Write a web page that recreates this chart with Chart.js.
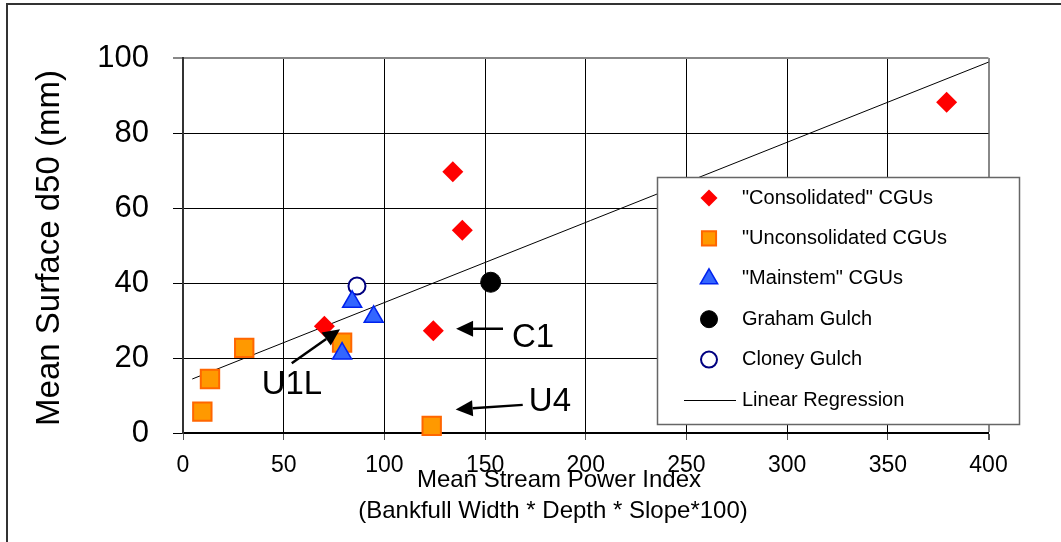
<!DOCTYPE html>
<html>
<head>
<meta charset="utf-8">
<script src="https://cdn.jsdelivr.net/npm/chart.js@4.4.0/dist/chart.umd.min.js"></script>
<style>
  html, body { margin: 0; padding: 0; background: #fff; }
  #wrap { width: 1061px; height: 542px; }
</style>
</head>
<body>
<div id="wrap"><canvas id="myScatterChart" width="1061" height="542"></canvas></div>
<script>
// Stream power index (x) vs mean surface d50 in mm (y), per channel group
var consolidatedX = [70.2, 134.0, 138.7, 124.3, 379.2]
var consolidatedY = [28.5, 69.7, 54.1, 27.3, 88.2]
var unconsolidatedX = [9.6, 13.4, 30.4, 79.0, 123.5]
var unconsolidatedY = [5.7, 14.4, 22.7, 24.1, 1.9]
var mainstemX = [84.0, 94.7, 79.0]
var mainstemY = [35.0, 31.0, 21.2]
var grahamX = [152.8]
var grahamY = [40.2]
var cloneyX = [86.4]
var cloneyY = [39.2]
// end points of the fitted line
var regressionX = [4.6, 400]
var regressionY = [14.4, 98.9]

var xTicks = [0, 50, 100, 150, 200, 250, 300, 350, 400]
var yTicks = [0, 20, 40, 60, 80, 100]

// site callouts: label, label position, arrow tail, arrow tip (data units)
var calloutLabels = ['U1L', 'C1', 'U4']
var calloutText = [[54.1, 12.8], [173.8, 25.4], [182.2, 8.3]]
var calloutTail = [[54.0, 18.6], [158.9, 27.8], [168.7, 7.5]]
var calloutTip = [[78.0, 27.7], [135.6, 27.8], [135.4, 6.3]]

var FONT = "'Liberation Sans', Arial, sans-serif"

function toPoints(xs, ys) {
    return xs.map(function(x, i) { return { x: x, y: ys[i] } })
}

// legend marker sizes are a bit smaller than the plotted ones
var legendRadius = [8.5, 10, 10, 8.5, 8]

function drawMarker(ctx, ds, radius, x, y) {
    ctx.save()
    ctx.fillStyle = ds.backgroundColor
    ctx.strokeStyle = ds.borderColor
    ctx.lineWidth = ds.borderWidth
    Chart.helpers.drawPoint(ctx, { pointStyle: ds.pointStyle, radius: radius, rotation: 0, borderWidth: ds.borderWidth }, x, y)
    ctx.restore()
}

function drawArrow(ctx, x1, y1, x2, y2) {
    var ang = Math.atan2(y2 - y1, x2 - x1)
    var headLen = 17, headHalf = 8
    var bx = x2 - Math.cos(ang) * headLen
    var by = y2 - Math.sin(ang) * headLen
    ctx.beginPath()
    ctx.moveTo(x1, y1)
    ctx.lineTo(bx, by)
    ctx.lineWidth = 2.5
    ctx.strokeStyle = '#000'
    ctx.stroke()
    ctx.beginPath()
    ctx.moveTo(x2, y2)
    ctx.lineTo(bx + Math.sin(ang) * headHalf, by - Math.cos(ang) * headHalf)
    ctx.lineTo(bx - Math.sin(ang) * headHalf, by + Math.cos(ang) * headHalf)
    ctx.closePath()
    ctx.fillStyle = '#000'
    ctx.fill()
}

var extras = {
    id: 'extras',
    afterDraw: function(chart) {
        var ctx = chart.ctx
        var xs = chart.scales.x, ys = chart.scales.y
        ctx.save()

        // outer frame (top and left edges)
        ctx.strokeStyle = '#333'
        ctx.lineWidth = 2
        ctx.beginPath()
        ctx.moveTo(7, 542)
        ctx.lineTo(7, 4)
        ctx.lineTo(1061, 4)
        ctx.stroke()

        // axis titles
        ctx.fillStyle = '#000'
        ctx.textAlign = 'center'
        ctx.textBaseline = 'middle'
        ctx.font = '24px ' + FONT
        ctx.fillText('Mean Stream Power Index', 559, 480)
        ctx.fillText('(Bankfull Width * Depth * Slope*100)', 553, 511)
        ctx.save()
        ctx.translate(50, 248)
        ctx.rotate(-Math.PI / 2)
        ctx.font = '33px ' + FONT
        ctx.fillText('Mean Surface d50 (mm)', 0, 0)
        ctx.restore()

        // callouts
        calloutLabels.forEach(function(label, i) {
            drawArrow(ctx,
                xs.getPixelForValue(calloutTail[i][0]), ys.getPixelForValue(calloutTail[i][1]),
                xs.getPixelForValue(calloutTip[i][0]), ys.getPixelForValue(calloutTip[i][1]))
            ctx.fillStyle = '#000'
            ctx.font = '33px ' + FONT
            ctx.textAlign = 'center'
            ctx.textBaseline = 'middle'
            ctx.fillText(label, xs.getPixelForValue(calloutText[i][0]), ys.getPixelForValue(calloutText[i][1]))
        })

        // legend box
        ctx.fillStyle = '#fff'
        ctx.fillRect(657.5, 177.5, 362, 247)
        ctx.strokeStyle = '#666'
        ctx.lineWidth = 1.5
        ctx.strokeRect(657.5, 177.5, 362, 247)
        ctx.font = '20px ' + FONT
        ctx.textAlign = 'left'
        ctx.textBaseline = 'middle'
        chart.data.datasets.forEach(function(ds, i) {
            var rowY = 198 + i * 40.4
            if (ds.type === 'line') {
                ctx.strokeStyle = ds.borderColor
                ctx.lineWidth = ds.borderWidth
                ctx.beginPath()
                ctx.moveTo(684, rowY + 0.5)
                ctx.lineTo(736, rowY + 0.5)
                ctx.stroke()
            } else {
                drawMarker(ctx, ds, legendRadius[i], 709, rowY)
            }
            ctx.fillStyle = '#000'
            ctx.fillText(ds.label, 742, rowY)
        })
        ctx.restore()
    }
}

var ctx = document.getElementById('myScatterChart').getContext('2d')
var myScatterChart = new Chart(ctx, {
    type: 'scatter',
    data: {
        datasets: [{
            label: '"Consolidated" CGUs',
            data: toPoints(consolidatedX, consolidatedY),
            pointStyle: 'rectRot',
            pointRadius: 10.5,
            backgroundColor: '#ff0000',
            borderColor: '#ff0000',
            borderWidth: 0,
            order: 0
        }, {
            label: '"Unconsolidated CGUs',
            data: toPoints(unconsolidatedX, unconsolidatedY),
            pointStyle: 'rect',
            pointRadius: 13,
            backgroundColor: '#ff9900',
            borderColor: '#ff6600',
            borderWidth: 2,
            order: 3
        }, {
            label: '"Mainstem" CGUs',
            data: toPoints(mainstemX, mainstemY),
            pointStyle: 'triangle',
            pointRadius: 11,
            backgroundColor: '#3366ff',
            borderColor: '#0022ee',
            borderWidth: 1.5,
            order: 1
        }, {
            label: 'Graham Gulch',
            data: toPoints(grahamX, grahamY),
            pointStyle: 'circle',
            pointRadius: 10,
            backgroundColor: '#000',
            borderColor: '#000',
            borderWidth: 1,
            order: 4
        }, {
            label: 'Cloney Gulch',
            data: toPoints(cloneyX, cloneyY),
            pointStyle: 'circle',
            pointRadius: 8.5,
            backgroundColor: '#fff',
            borderColor: '#000080',
            borderWidth: 2,
            order: 2
        }, {
            type: 'line',
            label: 'Linear Regression',
            data: toPoints(regressionX, regressionY),
            borderColor: '#000',
            borderWidth: 1,
            pointRadius: 0,
            showLine: true,
            fill: false,
            order: 10
        }]
    },
    options: {
        responsive: false,
        animation: false,
        clip: false,
        layout: { padding: { top: 58, right: 72.5, left: 0, bottom: 0 } },
        plugins: {
            legend: { display: false },
            tooltip: { enabled: false }
        },
        scales: {
            x: {
                type: 'linear',
                min: 0,
                max: 400,
                afterFit: function(scale) { scale.height = 109 },
                afterBuildTicks: function(scale) { scale.ticks = xTicks.map(function(v) { return { value: v } }) },
                grid: {
                    color: function(c) { return c.tick && c.tick.value === 400 ? '#888' : '#000' },
                    lineWidth: function(c) { return c.tick && c.tick.value === 400 ? 2 : 1 },
                    tickColor: '#555',
                    tickLength: 7
                },
                border: { color: '#000', width: 2 },
                ticks: {
                    color: '#000',
                    font: { family: FONT, size: 23 },
                    padding: 12,
                    maxRotation: 0
                }
            },
            y: {
                min: 0,
                max: 100,
                afterFit: function(scale) { scale.width = 183 },
                afterBuildTicks: function(scale) { scale.ticks = yTicks.map(function(v) { return { value: v } }) },
                grid: {
                    color: function(c) { return c.tick && c.tick.value === 100 ? '#888' : '#000' },
                    lineWidth: function(c) { return c.tick && c.tick.value === 100 ? 2 : 1 },
                    tickLength: 10
                },
                border: { color: '#333', width: 2 },
                ticks: {
                    color: '#000',
                    font: { family: FONT, size: 31 },
                    padding: 24
                }
            }
        }
    },
    plugins: [extras]
});
</script>
</body>
</html>
